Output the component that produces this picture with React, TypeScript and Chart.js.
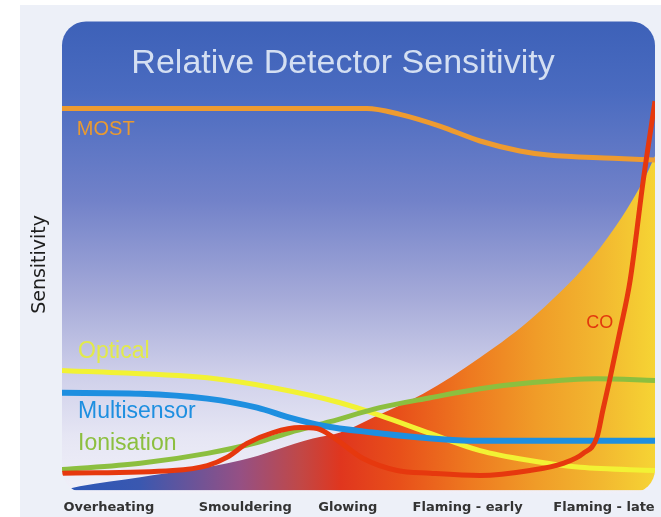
import React, { useEffect, useRef } from "react";
import { Chart, registerables } from "chart.js";

Chart.register(...registerables);

// Fire stages (x axis) and their positions on a 0-100 progression scale
const CATEGORIES = ["Overheating", "Smouldering", "Glowing", "Flaming - early", "Flaming - late"];
const CATEGORY_POS = [7.9, 30.9, 48.2, 68.4, 91.4];

// Sensitivity curves (x = fire progression 0-100, y = relative sensitivity 0-100)
const MOST_X = [0, 25, 51.4, 57.0, 63.7, 70.5, 77.2, 82.0, 92.9, 100];
const MOST_Y = [84.5, 84.5, 84.5, 83.2, 80.6, 77.3, 75.1, 74.2, 73.5, 73.1];

const OPTICAL_X = [0, 24.5, 35.6, 46.9, 53.6, 62.1, 70.5, 78.9, 87.4, 100];
const OPTICAL_Y = [26.5, 24.9, 22.7, 19.4, 16.6, 12.6, 8.8, 6.6, 5.1, 4.4];

const MULTI_X = [0, 13.2, 24.5, 32.9, 38.4, 44.0, 52.4, 60.4, 68.8, 100];
const MULTI_Y = [21.6, 21.4, 20.3, 18.3, 16.1, 14.3, 12.8, 11.7, 11.0, 11.0];

const ION_X = [0, 13.2, 24.5, 32.9, 38.4, 45.2, 53.6, 62.1, 70.5, 78.9, 90.2, 100];
const ION_Y = [4.6, 6.0, 8.2, 10.6, 12.8, 15.2, 18.3, 20.5, 22.5, 23.8, 24.7, 24.3];

const CO_X = [0, 18.7, 24.5, 27.8, 31.2, 35.6, 40.1, 43.0, 46.0, 50.7, 56.5, 62.1, 70.5, 78.9, 84.5, 87.9, 90.2, 91.2, 92.4, 94.1, 95.8, 98.0, 100];
const CO_Y = [3.8, 4.4, 5.5, 7.3, 10.4, 12.8, 13.9, 13.7, 11.5, 7.1, 4.4, 3.8, 3.3, 4.4, 6.0, 8.2, 11.7, 17.7, 24.7, 35.3, 46.4, 68.4, 86.1];

// Fire intensity area
const FIRE_X = [0, 3.0, 13.2, 30.0, 42.3, 46.9, 52.4, 60.9, 70.5, 80.1, 90.7, 98.0, 100];
const FIRE_Y = [0, 0.9, 2.9, 6.6, 11.5, 12.8, 16.1, 21.4, 29.4, 39.1, 53.6, 68.4, 74.0];

const SERIES_LABELS = [
  { text: "MOST", x: 2.5, y: 79.9, color: "#E99A32", size: 20 },
  { text: "Optical", x: 2.7, y: 30.7, color: "#E2EA4A", size: 23 },
  { text: "Multisensor", x: 2.7, y: 17.4, color: "#1E8FE0", size: 23 },
  { text: "Ionisation", x: 2.7, y: 10.4, color: "#8CBF3F", size: 23 },
  { text: "CO", x: 88.4, y: 37.1, color: "#E2380E", size: 18 },
];

const zip = (xs: number[], ys: number[]) => xs.map((x, i) => ({ x, y: ys[i] }));

function roundedPanel(ctx: CanvasRenderingContext2D, a: any) {
  const top = a.top - 17;
  const bottom = a.bottom + 3;
  ctx.beginPath();
  ctx.roundRect(a.left, top, a.right - a.left, bottom - top, 24);
  return { top, bottom };
}

const panelPlugin = {
  id: "panel",
  beforeDraw(chart: any) {
    const { ctx, chartArea: a, width, height } = chart;
    ctx.save();
    ctx.fillStyle = "#ffffff";
    ctx.fillRect(0, 0, width, height);
    ctx.fillStyle = "#EDF0F8";
    ctx.fillRect(20, 5, width - 20, height - 5);
    const { top, bottom } = roundedPanel(ctx, a);
    const g = ctx.createLinearGradient(0, top, 0, bottom);
    g.addColorStop(0, "#3D61B8");
    g.addColorStop(0.15, "#4A6BC0");
    g.addColorStop(0.38, "#7282C9");
    g.addColorStop(0.58, "#A4A9D8");
    g.addColorStop(0.75, "#CFD0EA");
    g.addColorStop(0.88, "#E6E6F4");
    g.addColorStop(1, "#F0F0F8");
    ctx.fillStyle = g;
    ctx.fill();
    ctx.restore();
  },
  beforeDatasetsDraw(chart: any) {
    const { ctx, chartArea: a } = chart;
    ctx.save();
    roundedPanel(ctx, a);
    ctx.clip();
  },
  afterDatasetsDraw(chart: any) {
    const { ctx } = chart;
    ctx.restore();
    const xs = chart.scales.x;
    const ys = chart.scales.y;
    ctx.save();
    ctx.textBaseline = "middle";
    ctx.textAlign = "left";
    for (const l of SERIES_LABELS) {
      ctx.font = `${l.size}px "Liberation Sans", Arial, sans-serif`;
      ctx.fillStyle = l.color;
      ctx.fillText(l.text, xs.getPixelForValue(l.x), ys.getPixelForValue(l.y));
    }
    ctx.restore();
  },
};

function fireGradient(context: any) {
  const chart = context.chart;
  const a = chart.chartArea;
  if (!a) return "#E8501A";
  const g = chart.ctx.createLinearGradient(a.left, 0, a.right, 0);
  g.addColorStop(0, "#2A56B8");
  g.addColorStop(0.13, "#3A58B0");
  g.addColorStop(0.3, "#955084");
  g.addColorStop(0.4, "#C04848");
  g.addColorStop(0.47, "#E0361E");
  g.addColorStop(0.57, "#E8501A");
  g.addColorStop(0.69, "#EE7A20");
  g.addColorStop(0.8, "#F09C28");
  g.addColorStop(0.91, "#F2B830");
  g.addColorStop(1, "#F6D434");
  return g;
}

export default function App() {
  const ref = useRef<HTMLCanvasElement | null>(null);
  useEffect(() => {
    if (!ref.current) return;
    const line = (data: any, color: string, width: number, order: number) => ({
      type: "line",
      data,
      borderColor: color,
      borderWidth: width,
      pointRadius: 0,
      fill: false,
      cubicInterpolationMode: "monotone",
      order,
    });
    const chart = new Chart(ref.current, {
      type: "line",
      data: {
        datasets: [
          {
            label: "Fire",
            data: zip(FIRE_X, FIRE_Y),
            borderWidth: 0,
            pointRadius: 0,
            fill: "origin",
            backgroundColor: fireGradient,
            cubicInterpolationMode: "monotone",
            order: 10,
          },
          { label: "MOST", ...line(zip(MOST_X, MOST_Y), "#EE9B30", 5, 6) },
          { label: "Optical", ...line(zip(OPTICAL_X, OPTICAL_Y), "#F2F234", 5, 5) },
          { label: "Ionisation", ...line(zip(ION_X, ION_Y), "#8CBF3F", 5, 4) },
          { label: "Multisensor", ...line(zip(MULTI_X, MULTI_Y), "#1E8FE0", 6, 3) },
          { label: "CO", ...line(zip(CO_X, CO_Y), "#E6380E", 5, 2) },
        ] as any,
      },
      options: {
        responsive: false,
        animation: false,
        devicePixelRatio: 1,
        layout: { padding: { left: 31, right: 6, top: 0, bottom: -7 } },
        plugins: {
          legend: { display: false },
          tooltip: { enabled: false },
          title: {
            display: true,
            text: "Relative Detector Sensitivity",
            color: "#D4DFF2",
            font: { family: '"Liberation Sans", Arial, sans-serif', size: 34, weight: "normal", lineHeight: 1.2 },
            padding: { top: 43, bottom: -45.4 },
          },
        },
        scales: {
          x: {
            type: "linear",
            min: 0,
            max: 100,
            grid: { display: false, drawTicks: false },
            border: { display: false },
            afterBuildTicks: (scale: any) => {
              scale.ticks = CATEGORY_POS.map((v) => ({ value: v }));
            },
            afterFit: (scale: any) => {
              scale.paddingLeft = 0;
              scale.paddingRight = 0;
            },
            ticks: {
              autoSkip: false,
              maxRotation: 0,
              padding: 9,
              color: "#333333",
              font: { family: '"DejaVu Sans", sans-serif', size: 13, weight: "bold" },
              callback: (_v: any, i: number) => CATEGORIES[i],
            },
          },
          y: {
            min: 0,
            max: 100,
            grid: { display: false, drawTicks: false },
            border: { display: false },
            ticks: { display: false },
            title: {
              display: true,
              text: "Sensitivity",
              color: "#1E1E1E",
              font: { family: '"DejaVu Sans", sans-serif', size: 19, lineHeight: 1 },
              padding: { top: 0, bottom: 12 },
            },
          },
        },
      } as any,
      plugins: [panelPlugin],
    });
    return () => chart.destroy();
  }, []);
  return (
    <div style={{ position: "fixed", left: 0, top: 0, width: 661, height: 517 }}>
      <canvas ref={ref} width={661} height={517} />
    </div>
  );
}
